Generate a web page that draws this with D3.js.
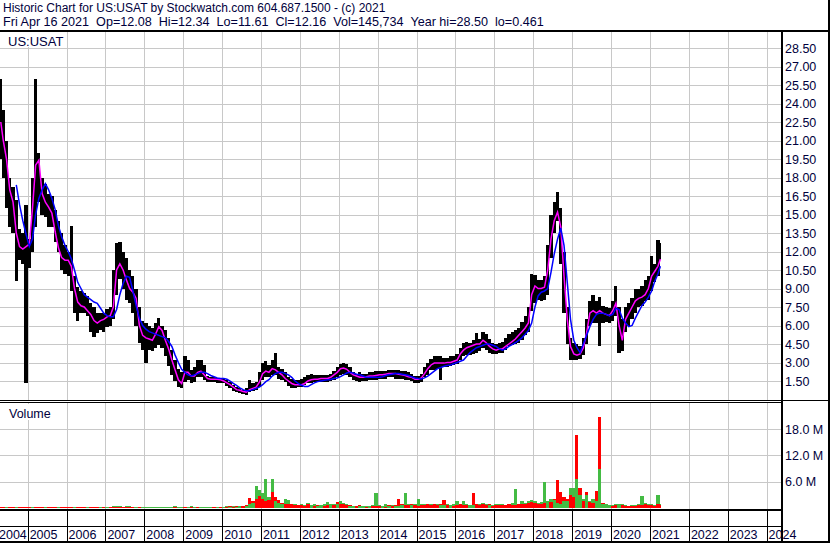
<!DOCTYPE html>
<html>
<head>
<meta charset="utf-8">
<script src="https://cdn.jsdelivr.net/npm/d3@7"></script>
<style>
body { margin: 0; background: #fff; }
svg { display: block; font-family: "Liberation Sans", Arial, sans-serif; }
</style>
</head>
<body>
<svg id="chart" width="830" height="543"></svg>
<script>
// monthly values, Apr 2004 .. Apr 2021
var hi = [
    26.0, 23.5, 21.0, 18.0, 17.2, 16.2, 13.8, 13.5, 15.8,
    13.0, 18.0, 26.0, 20.0, 18.0, 17.5, 16.7, 16.5, 15.4, 14.5, 13.5, 12.5,
    12.0, 14.1, 10.0, 9.1, 8.8, 8.6, 8.4, 7.8, 7.5, 7.0, 7.0, 7.0,
    7.3, 7.5, 10.5, 12.7, 12.8, 12.0, 11.5, 10.5, 10.0, 9.0, 7.5, 6.4,
    6.2, 6.0, 5.8, 6.2, 6.6, 6.0, 5.6, 5.0, 4.0, 3.2, 2.5, 2.2,
    3.5, 3.2, 2.4, 2.6, 3.2, 3.2, 2.8, 1.9, 1.8, 1.8, 1.75, 1.75,
    1.7, 1.6, 1.4, 1.2, 1.0, 0.9, 0.8, 0.9, 1.6, 1.3, 1.4, 2.2,
    3.0, 3.1, 2.8, 3.2, 3.8, 2.6, 2.5, 2.2, 1.8, 1.7, 1.6, 1.6,
    1.7, 1.8, 2.0, 2.1, 2.0, 2.0, 2.0, 2.0, 2.0, 2.1, 2.3, 2.6,
    2.9, 3.0, 2.9, 2.6, 2.2, 2.1, 2.2, 2.1, 2.1, 2.2, 2.2, 2.3,
    2.3, 2.3, 2.3, 2.4, 2.4, 2.4, 2.4, 2.3, 2.3, 2.2, 2.1, 1.9,
    1.9, 2.1, 2.6, 3.0, 3.3, 3.5, 3.5, 3.5, 3.4, 3.4, 3.5, 3.5,
    3.7, 4.2, 4.6, 4.7, 4.6, 4.8, 5.4, 4.9, 5.5, 5.3, 4.9, 4.6,
    4.5, 4.6, 4.7, 5.0, 5.3, 5.5, 5.6, 5.8, 6.3, 6.8, 7.5, 10.2,
    10.1, 9.7, 9.7, 10.0, 12.5, 15.0, 16.0, 16.8, 15.5, 12.0, 7.5, 5.0,
    4.6, 4.5, 4.3, 5.0, 6.5, 8.0, 8.5, 8.0, 8.3, 7.6, 7.5, 7.4,
    8.0, 9.2, 7.5, 6.5, 7.5, 7.8, 8.2, 9.0, 9.0, 9.2, 9.7, 10.0,
    11.6, 11.0, 12.9, 12.7
];
var lo = [
    19.5, 18.0, 15.5, 14.0, 13.5, 9.6, 11.3, 11.0, 1.3,
    10.7, 12.0, 14.0, 16.0, 15.0, 14.8, 14.0, 14.0, 12.8, 12.0, 10.5, 10.2,
    10.0, 8.8, 7.0, 6.4, 7.0, 7.0, 6.8, 5.5, 5.1, 5.4, 5.6, 5.5,
    5.9, 6.0, 6.5, 8.5, 9.8, 9.0, 8.1, 7.8, 7.0, 6.0, 4.6, 4.0,
    3.0, 4.0, 3.9, 4.2, 4.4, 4.2, 3.5, 2.7, 2.0, 1.5, 1.0, 0.9,
    1.4, 1.6, 1.3, 1.4, 1.8, 1.8, 1.6, 1.4, 1.4, 1.4, 1.35, 1.3,
    1.3, 1.1, 0.9, 0.7, 0.6, 0.5, 0.45, 0.4, 0.6, 0.7, 0.8, 1.0,
    1.6, 1.8, 1.8, 2.0, 2.0, 1.7, 1.6, 1.4, 1.1, 0.9, 0.9, 1.0,
    1.0, 1.2, 1.3, 1.3, 1.4, 1.4, 1.4, 1.4, 1.4, 1.5, 1.6, 1.8,
    2.0, 2.1, 2.0, 1.8, 1.6, 1.5, 1.4, 1.5, 1.5, 1.6, 1.6, 1.6,
    1.7, 1.7, 1.7, 1.8, 1.8, 1.7, 1.7, 1.7, 1.6, 1.6, 1.5, 1.3,
    1.3, 1.4, 1.8, 2.0, 2.4, 2.4, 2.5, 1.6, 2.6, 2.6, 2.7, 2.8,
    2.9, 3.2, 3.5, 3.6, 3.6, 3.7, 3.8, 3.9, 4.2, 4.0, 3.8, 3.7,
    3.7, 3.8, 3.8, 4.0, 4.3, 4.4, 4.5, 4.6, 4.8, 5.2, 5.5, 7.2,
    7.8, 8.1, 8.0, 8.1, 8.5, 11.5, 13.5, 14.5, 11.0, 7.0, 4.5, 3.2,
    3.2, 3.2, 3.3, 3.6, 4.5, 6.0, 6.2, 6.2, 4.3, 6.2, 6.3, 6.2,
    6.4, 6.8, 3.8, 3.9, 5.5, 6.0, 6.5, 7.0, 7.5, 7.6, 8.0, 8.1,
    8.8, 9.5, 10.0, 11.3
];
// short moving average (magenta)
var maShort = [
    22.5, 21.0, 19.5, 17.0, 16.0, 13.5, 12.4, 12.2, 12.4,
    12.6, 15.5, 19.0, 19.4, 16.7, 16.0, 15.6, 15.1, 13.6, 12.3, 11.5, 11.3,
    11.3, 10.8, 9.0, 7.9, 7.6, 7.5, 7.2, 6.9, 6.4, 6.2, 6.4, 6.5,
    6.7, 6.8, 7.5, 10.5, 11.0, 10.5, 9.7, 9.0, 8.7, 8.2, 6.0, 5.2,
    5.0, 4.9, 4.8, 5.3, 5.9, 5.6, 4.8, 4.1, 3.2, 2.4, 1.6, 1.3,
    2.2, 2.2, 1.9, 1.9, 2.2, 2.3, 2.0, 1.7, 1.65, 1.65, 1.65, 1.6,
    1.5, 1.35, 1.2, 1.0, 0.8, 0.75, 0.65, 0.6, 0.8, 0.9, 1.0, 1.4,
    2.1, 2.3, 2.2, 2.5, 2.4, 2.2, 2.0, 1.7, 1.5, 1.3, 1.2, 1.2,
    1.2, 1.3, 1.5, 1.6, 1.65, 1.65, 1.7, 1.7, 1.7, 1.8, 2.0, 2.2,
    2.5, 2.55, 2.45, 2.2, 2.0, 1.9, 1.8, 1.8, 1.85, 1.9, 1.9, 1.95,
    2.0, 2.0, 2.05, 2.1, 2.1, 2.1, 2.05, 2.0, 1.95, 1.85, 1.8, 1.65,
    1.65, 1.75, 2.1, 2.5, 2.8, 2.95, 2.95, 2.95, 2.95, 3.0, 3.0, 3.1,
    3.2, 3.7, 4.0, 4.2, 4.3, 4.4, 4.5, 4.5, 4.8, 4.6, 4.3, 4.1,
    4.0, 4.1, 4.1, 4.3, 4.5, 4.7, 4.9, 5.2, 5.5, 5.8, 6.2, 8.5,
    9.2, 9.0, 9.0, 9.1, 10.5, 13.0, 14.5, 15.2, 14.0, 10.0, 6.5, 4.3,
    3.7, 3.6, 3.7, 4.2, 5.4, 7.0, 7.2, 7.0, 7.2, 7.0, 6.9, 6.8,
    7.2, 7.8, 6.0, 4.8, 6.5, 7.0, 7.5, 8.0, 8.2, 8.3, 8.5, 9.0,
    10.0, 10.4, 10.8, 11.4
];
// long moving average (blue)
var maLong = [
    null, null, null, null, null, 17.4, 15.8, 14.5, 13.4,
    12.4, 13.0, 15.0, 16.3, 17.0, 17.5, 17.0, 16.3, 15.4, 14.1, 13.2, 12.5,
    12.0, 11.4, 10.5, 9.5, 9.0, 8.5, 8.3, 8.1, 7.9, 7.8, 7.4, 7.0,
    6.8, 6.7, 6.7, 7.3, 8.5, 9.4, 10.0, 9.9, 8.8, 7.6, 6.6, 6.0,
    5.7, 5.5, 5.4, 5.3, 5.2, 5.1, 5.0, 4.7, 4.3, 3.6, 3.0, 2.45,
    2.2, 2.0, 1.9, 2.0, 2.1, 2.2, 2.2, 2.1, 1.95, 1.85, 1.75, 1.7,
    1.7, 1.65, 1.5, 1.3, 1.15, 0.95, 0.8, 0.7, 0.7, 0.8, 0.9, 1.0,
    1.2, 1.45, 1.6, 1.9, 2.1, 2.2, 2.2, 2.1, 2.0, 1.8, 1.5, 1.3,
    1.15, 1.05, 1.05, 1.2, 1.35, 1.45, 1.5, 1.55, 1.6, 1.62, 1.7, 1.75,
    1.85, 2.0, 2.15, 2.2, 2.15, 2.05, 2.0, 1.9, 1.8, 1.8, 1.8, 1.8,
    1.8, 1.85, 1.95, 2.0, 2.05, 2.1, 2.1, 2.05, 2.0, 1.95, 1.85, 1.75,
    1.7, 1.66, 1.75, 1.9, 2.1, 2.3, 2.5, 2.6, 2.7, 2.75, 2.8, 2.9,
    3.0, 3.1, 3.2, 3.5, 3.8, 4.0, 4.2, 4.3, 4.4, 4.5, 4.5, 4.4,
    4.3, 4.1, 4.0, 4.1, 4.3, 4.45, 4.6, 4.8, 5.0, 5.3, 5.6, 6.2,
    7.5, 8.4, 8.7, 8.8, 9.0, 10.3, 11.8, 13.0, 13.9, 12.5, 9.5, 6.5,
    4.8, 4.2, 3.8, 4.5, 5.2, 5.9, 6.5, 6.9, 7.0, 7.0, 6.9, 6.8,
    6.9, 7.4, 7.3, 6.6, 6.2, 5.9, 6.0, 6.6, 7.1, 7.6, 7.9, 8.3,
    8.8, 9.6, 10.2, 10.8
];
// volume peaks per month, millions
var volDown = [
    0.2, 0.2, 0.2, 0.2, 0.2, 0.2, 0.2, 0.2, 0.2,
    0.2, 0.2, 0.2, 0.2, 0.2, 0.2, 0.2, 0.2, 0.2, 0.2, 0.2, 0.2,
    0.2, 0.2, 0.2, 0.2, 0.2, 0.2, 0.2, 0.2, 0.2, 0.2, 0.2, 0.2,
    0.25, 0.25, 0.3, 0.3, 0.3, 0.25, 0.25, 0.25, 0.25, 0.2, 0.25, 0.25,
    0.2, 0.2, 0.25, 0.2, 0.2, 0.25, 0.2, 0.2, 0.3, 0.25, 0.2, 0.2,
    0.25, 0.2, 0.2, 0.3, 0.25, 0.2, 0.2, 0.2, 0.2, 0.25, 0.2, 0.2,
    0.3, 0.3, 0.4, 0.3, 0.4, 0.5, 0.4, 0.6, 2.3, 1.5, 2.0, 2.8,
    2.0, 1.5, 1.8, 3.7, 2.6, 1.8, 1.2, 0.9, 1.0, 0.8, 0.6, 0.6,
    0.7, 0.5, 0.8, 0.6, 0.5, 0.6, 0.7, 0.5, 0.6, 0.9, 0.7, 1.3,
    0.9, 1.0, 0.6, 0.6, 0.4, 0.4, 0.6, 0.4, 0.3, 0.4, 0.4, 0.5,
    0.4, 0.5, 0.3, 0.6, 0.4, 0.7, 2.0, 0.8, 0.7, 0.6, 0.8, 0.6,
    0.5, 0.7, 0.7, 0.8, 0.6, 0.8, 0.7, 0.9, 1.8, 0.6, 0.6, 0.5,
    0.6, 0.8, 0.7, 0.6, 0.7, 3.5, 0.8, 0.7, 0.8, 0.6, 0.8, 0.5,
    0.6, 0.6, 0.7, 0.6, 0.8, 0.6, 0.7, 0.9, 0.8, 1.0, 1.2, 1.4,
    1.2, 1.0, 1.0, 1.2, 1.5, 1.3, 2.0, 6.4, 3.7, 2.5, 2.0, 3.0,
    2.5, 16.6, 4.5, 1.5, 3.7, 1.3, 1.2, 3.9, 20.8, 1.2, 0.8, 0.6,
    0.5, 0.6, 0.9, 0.6, 0.5, 0.4, 0.5, 0.5, 0.6, 0.7, 0.9, 0.7,
    0.6, 0.5, 0.8, 0.7
];
var volUp = [
    0.1, 0.1, 0.15, 0.1, 0.1, 0.15, 0.1, 0.1, 0.1,
    0.1, 0.15, 0.1, 0.1, 0.1, 0.15, 0.1, 0.1, 0.1, 0.15, 0.1, 0.1,
    0.1, 0.1, 0.15, 0.1, 0.1, 0.1, 0.15, 0.1, 0.1, 0.1, 0.15, 0.1,
    0.2, 0.3, 0.5, 0.5, 0.4, 0.3, 0.4, 0.5, 0.3, 0.2, 0.3, 0.2,
    0.2, 0.15, 0.2, 0.2, 0.15, 0.2, 0.2, 0.15, 0.2, 0.4, 0.2, 0.2,
    0.3, 0.2, 0.4, 0.2, 0.3, 0.2, 0.2, 0.15, 0.2, 0.3, 0.2, 0.25,
    0.3, 0.4, 0.3, 0.5, 0.3, 0.4, 0.5, 0.4, 0.8, 1.2, 5.0, 4.0,
    3.5, 6.6, 2.5, 6.6, 1.5, 1.2, 1.0, 2.0, 1.8, 0.9, 1.0, 0.7,
    0.9, 0.7, 1.2, 0.6, 0.8, 0.5, 0.6, 0.8, 1.3, 0.9, 1.0, 0.8,
    1.5, 1.2, 0.9, 0.5, 0.4, 0.5, 0.5, 0.4, 0.5, 0.4, 0.6, 3.4,
    0.6, 0.5, 0.8, 0.5, 0.6, 0.5, 0.5, 0.6, 3.4, 0.9, 0.7, 0.9,
    2.1, 0.8, 1.0, 1.0, 0.9, 1.0, 0.8, 0.7, 0.7, 0.8, 0.6, 0.8,
    1.5, 1.0, 1.5, 0.8, 0.7, 0.6, 0.9, 1.0, 1.1, 0.8, 0.7, 0.6,
    1.0, 0.9, 0.8, 0.7, 1.0, 1.2, 4.3, 1.0, 1.5, 1.2, 1.6, 1.8,
    1.5, 1.2, 1.4, 6.0, 1.5, 2.0, 1.8, 1.2, 1.0, 1.5, 1.5, 4.5,
    4.5, 6.6, 2.9, 2.0, 2.9, 1.5, 2.0, 1.5, 8.9, 1.0, 0.8, 0.6,
    0.7, 0.8, 0.8, 0.9, 0.6, 0.5, 0.6, 0.7, 0.8, 2.7, 1.2, 0.8,
    0.8, 0.7, 3.0, 0.9
];
var priceTicks = [1.5, 3, 4.5, 6, 7.5, 9, 10.5, 12, 13.5, 15, 16.5, 18, 19.5, 21, 22.5, 24, 25.5, 27, 28.5];
var volTicks = [6, 12, 18];
var years = [2004, 2005, 2006, 2007, 2008, 2009, 2010, 2011, 2012, 2013, 2014,
    2015, 2016, 2017, 2018, 2019, 2020, 2021, 2022, 2023, 2024];
var title1 = "Historic Chart for US:USAT by Stockwatch.com 604.687.1500 - (c) 2021";
var title2 = "Fri Apr 16 2021  Op=12.08  Hi=12.34  Lo=11.61  Cl=12.16  Vol=145,734  Year hi=28.50  lo=0.461";

(function() {
    var W = 830, H = 543,
        plotR = 781,
        textCol = "#00003c",
        gridCol = "#c8c8c8";

    var svg = d3.select("#chart");
    svg.append("rect").attr("width", W).attr("height", H).attr("fill", "#fff");

    var firstDay = new Date(2004, 3, 16),
        lastDay = new Date(2021, 3, 16);

    var x = d3.scaleTime()
        .domain([firstDay, new Date(2024, 4, 15)])
        .range([0, plotR]);
    var yP = d3.scaleLinear().domain([0, 28.5]).range([399.5, 48]);
    var yV = d3.scaleLinear().domain([0, 18]).range([508, 429]);

    function mStart(i) { return i === 0 ? firstDay : new Date(2004, 3 + i, 1); }
    function mEnd(i) { return i === hi.length - 1 ? lastDay : new Date(2004, 4 + i, 1); }
    function mMid(i) { return new Date((mStart(i).getTime() + mEnd(i).getTime()) / 2); }

    var rows = hi.map(function(h, i) {
        return { i: i, hi: h, lo: lo[i], s: maShort[i], l: maLong[i], up: volUp[i], down: volDown[i] };
    });

    // ---- grid
    var grid = svg.append("g").attr("stroke", gridCol).attr("stroke-width", 1).attr("shape-rendering", "crispEdges");
    years.slice(1).forEach(function(yr) {
        var gx = Math.round(x(new Date(yr, 0, 1))) + 0.5;
        grid.append("line").attr("x1", gx).attr("x2", gx).attr("y1", 32).attr("y2", 400);
        grid.append("line").attr("x1", gx).attr("x2", gx).attr("y1", 403).attr("y2", 509);
    });
    priceTicks.forEach(function(v) {
        var gy = Math.round(yP(v)) + 0.5;
        grid.append("line").attr("x1", 0).attr("x2", plotR).attr("y1", gy).attr("y2", gy);
    });
    volTicks.forEach(function(v) {
        var gy = Math.round(yV(v)) + 0.5;
        grid.append("line").attr("x1", 0).attr("x2", plotR).attr("y1", gy).attr("y2", gy);
    });

    // ---- price bars
    var price = svg.append("g");
    price.append("g").attr("shape-rendering", "crispEdges")
        .selectAll(".bar")
        .data(rows)
        .enter().append("rect")
        .attr("class", "bar")
        .attr("x", function(d) { return x(mStart(d.i)); })
        .attr("width", function(d) { return x(mEnd(d.i)) - x(mStart(d.i)); })
        .attr("y", function(d) { return yP(d.hi); })
        .attr("height", function(d) { return yP(d.lo) - yP(d.hi); })
        .attr("fill", "#000");

    var line = function(key) {
        return d3.line()
            .defined(function(d) { return d[key] != null; })
            .x(function(d) { return x(mMid(d.i)); })
            .y(function(d) { return yP(d[key]); });
    };
    price.append("path").datum(rows)
        .attr("d", line("s"))
        .attr("fill", "none").attr("stroke", "#ff00ff").attr("stroke-width", 1.5);
    price.append("path").datum(rows)
        .attr("d", line("l"))
        .attr("fill", "none").attr("stroke", "#0000ff").attr("stroke-width", 1.5);

    // ---- volume: taller bar first, the other day colour over it
    var vol = svg.append("g").attr("shape-rendering", "crispEdges");
    function volBar(pick) {
        vol.selectAll(".v" + pick)
            .data(rows)
            .enter().append("rect")
            .attr("x", function(d) { return x(mStart(d.i)); })
            .attr("width", function(d) { return x(mEnd(d.i)) - x(mStart(d.i)); })
            .attr("y", function(d) {
                var v = pick === "big" ? Math.max(d.up, d.down) : Math.min(d.up, d.down);
                return yV(v);
            })
            .attr("height", function(d) {
                var v = pick === "big" ? Math.max(d.up, d.down) : Math.min(d.up, d.down);
                return yV(0) - yV(v);
            })
            .attr("fill", function(d) {
                var redBig = d.down >= d.up;
                if (pick === "big") return redBig ? "#ff0000" : "#44bb44";
                return redBig ? "#44bb44" : "#ff0000";
            });
    }
    volBar("big");
    volBar("small");

    // ---- frame
    var frame = svg.append("g").attr("fill", "#000").attr("shape-rendering", "crispEdges");
    frame.append("rect").attr("x", 0).attr("y", 30).attr("width", W).attr("height", 2);
    frame.append("rect").attr("x", plotR).attr("y", 30).attr("width", 2).attr("height", H - 30);
    frame.append("rect").attr("x", 828).attr("y", 0).attr("width", 2).attr("height", H);
    frame.append("rect").attr("x", 0).attr("y", 541).attr("width", W).attr("height", 2);
    frame.append("rect").attr("x", 0).attr("y", 400).attr("width", W).attr("height", 1);
    frame.append("rect").attr("x", 0).attr("y", 402).attr("width", plotR).attr("height", 1);
    frame.append("rect").attr("x", 0).attr("y", 509).attr("width", plotR).attr("height", 2);
    frame.append("rect").attr("x", 0).attr("y", 526).attr("width", plotR).attr("height", 1);
    years.slice(1).forEach(function(yr) {
        frame.append("rect")
            .attr("x", Math.round(x(new Date(yr, 0, 1))))
            .attr("y", 511).attr("width", 1).attr("height", 30);
    });

    // ---- panel labels sit on white boxes
    svg.append("rect").attr("x", 1).attr("y", 32).attr("width", 64).attr("height", 15).attr("fill", "#fff");
    svg.append("rect").attr("x", 1).attr("y", 404).attr("width", 58).attr("height", 16).attr("fill", "#fff");

    // ---- texts
    var txt = svg.append("g").attr("fill", textCol);
    txt.append("text").attr("x", 3).attr("y", 12).attr("font-size", "12px").text(title1);
    txt.append("text").attr("x", 3).attr("y", 26).attr("font-size", "12.6px")
        .style("white-space", "pre").text(title2);

    txt.append("text").attr("x", 8).attr("y", 46).attr("font-size", "13px").text("US:USAT");
    txt.append("text").attr("x", 9).attr("y", 418).attr("font-size", "12.5px").text("Volume");

    txt.selectAll(".pl")
        .data(priceTicks)
        .enter().append("text")
        .attr("x", 785)
        .attr("y", function(d) { return yP(d) + 4.5; })
        .attr("font-size", "12.5px")
        .text(function(d) { return d3.format(".2f")(d); });

    txt.selectAll(".vl")
        .data(volTicks)
        .enter().append("text")
        .attr("x", 785)
        .attr("y", function(d) { return yV(d) + 4.5; })
        .attr("font-size", "12.5px")
        .text(function(d) { return d3.format(".1f")(d) + " M"; });

    txt.selectAll(".yl")
        .data(years)
        .enter().append("text")
        .attr("x", function(d) { return Math.max(-1, x(new Date(d, 0, 1)) + 2); })
        .attr("y", 539)
        .attr("font-size", "12.5px")
        .text(function(d) { return d; });
})();
</script>
</body>
</html>
